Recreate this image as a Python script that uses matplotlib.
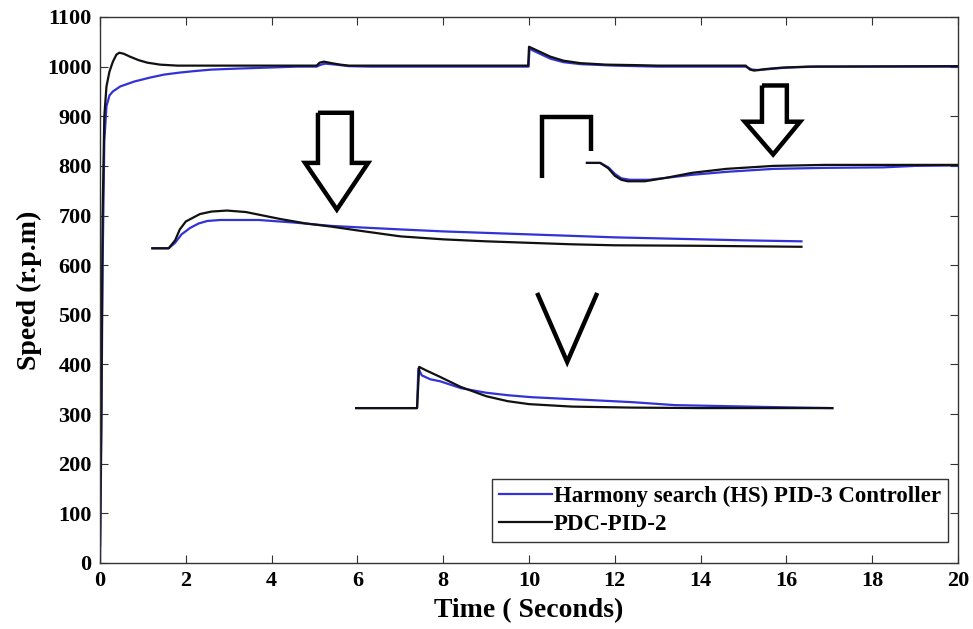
import matplotlib
matplotlib.use("Agg")
import matplotlib.pyplot as plt

# ---- main response (full run, 0-20 s) ----
t_hs_main = [0, 0.03, 0.06, 0.10, 0.15, 0.22, 0.30, 0.47, 0.80, 1.17, 1.50, 1.86, 2.20, 2.60,
             3.20, 3.90, 4.60, 5.05, 5.15, 5.25, 5.50, 5.80, 6.30, 9.99, 10.01, 10.20, 10.50,
             10.80, 11.20, 12.00, 13.00, 15.05, 15.20, 15.35, 15.60, 16.00, 16.70, 20.0]
v_hs_main = [0, 250, 600, 850, 920, 942, 950, 960, 970, 978, 984, 988, 991, 994,
             996, 998, 1000, 1000, 1004, 1006, 1004, 1001, 1000, 1000, 1036, 1028, 1016,
             1009, 1005, 1002, 1000, 1000, 994, 993, 995, 998, 1000, 1000]

t_pdc_main = [0, 0.03, 0.06, 0.10, 0.15, 0.22, 0.30, 0.38, 0.45, 0.55, 0.70, 0.90, 1.10, 1.40,
              1.80, 5.05, 5.12, 5.22, 5.40, 5.60, 5.80, 9.98, 10.00, 10.20, 10.50, 10.80,
              11.20, 11.80, 12.50, 13.00, 15.05, 15.15, 15.25, 15.50, 15.90, 16.50, 20.0]
v_pdc_main = [35, 300, 700, 900, 960, 990, 1010, 1024, 1028, 1026, 1020, 1013, 1008, 1004,
              1002, 1002, 1008, 1010, 1007, 1004, 1002, 1002, 1040, 1032, 1020, 1012,
              1007, 1004, 1003, 1002, 1002, 994, 992, 995, 998, 1000, 1001]

# ---- magnified detail 1 (start-up) ----
t_hs_z1 = [1.22, 1.60, 1.75, 1.90, 2.10, 2.30, 2.50, 2.80, 3.70, 4.50, 5.40, 6.30, 7.00,
           8.00, 9.00, 10.0, 11.0, 12.0, 13.0, 14.0, 15.0, 16.35]
v_hs_z1 = [634, 634, 645, 662, 675, 684, 689, 691, 691, 686, 679, 675, 672,
           668, 665, 662, 659, 656, 654, 652, 650, 648]
t_pdc_z1 = [1.22, 1.60, 1.75, 1.86, 2.00, 2.33, 2.60, 2.96, 3.40, 4.20, 4.80, 5.36, 6.00,
            7.00, 8.00, 9.00, 10.0, 11.0, 12.0, 14.0, 16.35]
v_pdc_z1 = [634, 634, 650, 672, 688, 703, 708, 710, 707, 693, 684, 678, 670,
            658, 652, 648, 645, 642, 640, 639, 637]

# ---- magnified detail 2 (step near 10 s) ----
t_hs_z2 = [5.97, 7.39, 7.42, 7.50, 7.70, 7.93, 8.42, 9.00, 9.50, 10.05, 11.0, 12.4, 13.4,
           15.7, 17.07]
v_hs_z2 = [312, 312, 392, 378, 370, 366, 352, 343, 338, 334, 330, 324, 318, 314, 312]
t_pdc_z2 = [5.97, 7.39, 7.44, 7.60, 7.90, 8.40, 9.00, 9.50, 10.0, 11.0, 12.4, 14.0, 17.07]
v_pdc_z2 = [312, 312, 395, 388, 376, 355, 336, 326, 320, 315, 313, 312, 312]

# ---- magnified detail 3 (dip near 15 s) ----
t_hs_z3 = [11.35, 11.66, 11.85, 12.00, 12.15, 12.35, 12.80, 13.20, 13.80, 14.60, 15.70,
           16.90, 18.25, 19.0, 20.0]
v_hs_z3 = [806, 806, 797, 784, 775, 772, 772, 776, 782, 788, 794, 796, 797, 800, 801]
t_pdc_z3 = [11.35, 11.66, 11.85, 12.00, 12.15, 12.30, 12.70, 13.20, 13.80, 14.60, 15.70,
            16.90, 20.0]
v_pdc_z3 = [806, 806, 795, 780, 772, 769, 769, 776, 786, 794, 800, 802, 802]

# ---- pointer shapes (data coordinates) ----
arrow_big_t = [5.08, 5.08, 4.78, 5.52, 6.25, 5.87, 5.87, 5.08]
arrow_big_v = [907, 806, 806, 712, 806, 806, 907, 907]
arrow_small_t = [15.43, 15.43, 15.03, 15.69, 16.32, 16.01, 16.01, 15.43]
arrow_small_v = [962, 889, 889, 823, 889, 889, 962, 962]
bracket_t = [10.30, 10.30, 11.45, 11.45]
bracket_v = [776, 899, 899, 829]
vee_t = [10.19, 10.89, 11.59]
vee_v = [544, 405, 544]

x_ticks = list(range(0, 21, 2))
y_ticks = list(range(0, 1101, 100))

label_hs = "Harmony search (HS) PID-3 Controller"
label_pdc = "PDC-PID-2"

BLUE = "#3232d6"
BLACK = "#111111"

plt.rcParams["font.family"] = ["Liberation Serif", "DejaVu Serif"]
plt.rcParams["font.weight"] = "bold"

fig = plt.figure(figsize=(9.73, 6.29), dpi=100)
ax = fig.add_axes([0.1028, 0.105, 0.8818, 0.868])

lw = 1.6
h_hs, = ax.plot(t_hs_main, v_hs_main, color=BLUE, lw=lw, label=label_hs)
h_pdc, = ax.plot(t_pdc_main, v_pdc_main, color=BLACK, lw=lw, label=label_pdc)
for tt, vv in [(t_hs_z1, v_hs_z1), (t_hs_z2, v_hs_z2), (t_hs_z3, v_hs_z3)]:
    ax.plot(tt, vv, color=BLUE, lw=lw)
for tt, vv in [(t_pdc_z1, v_pdc_z1), (t_pdc_z2, v_pdc_z2), (t_pdc_z3, v_pdc_z3)]:
    ax.plot(tt, vv, color=BLACK, lw=lw)

for tt, vv in [(arrow_big_t, arrow_big_v), (arrow_small_t, arrow_small_v),
               (bracket_t, bracket_v), (vee_t, vee_v)]:
    ax.plot(tt, vv, color="black", lw=3.2, solid_joinstyle="miter", solid_capstyle="butt")

ax.set_xlim(0, 20)
ax.set_ylim(0, 1100)
ax.set_xticks(x_ticks)
ax.set_yticks(y_ticks)
ax.tick_params(direction="in", top=True, right=True, length=6, width=0.8,
               labelsize=16, pad=6, color="#333333")
for lab in ax.get_xticklabels() + ax.get_yticklabels():
    lab.set_fontweight("bold")
for s in ax.spines.values():
    s.set_color("#333333")
    s.set_linewidth(1.0)

ax.set_xlabel("Time ( Seconds)", fontsize=20, fontweight="bold", labelpad=5)
ax.set_ylabel("Speed (r.p.m)", fontsize=20, fontweight="bold", labelpad=4)

leg = ax.legend(handles=[h_hs, h_pdc], loc="lower right", bbox_to_anchor=(0.988, 0.0385),
                borderaxespad=0, fancybox=False, framealpha=1, edgecolor="#333333",
                prop={"family": "Liberation Serif", "weight": "bold", "size": 16.5},
                handlelength=2.3, handletextpad=0.1, labelspacing=0.3,
                borderpad=0.3)
leg.get_frame().set_linewidth(1.0)

fig.savefig("out.png", dpi=100)
